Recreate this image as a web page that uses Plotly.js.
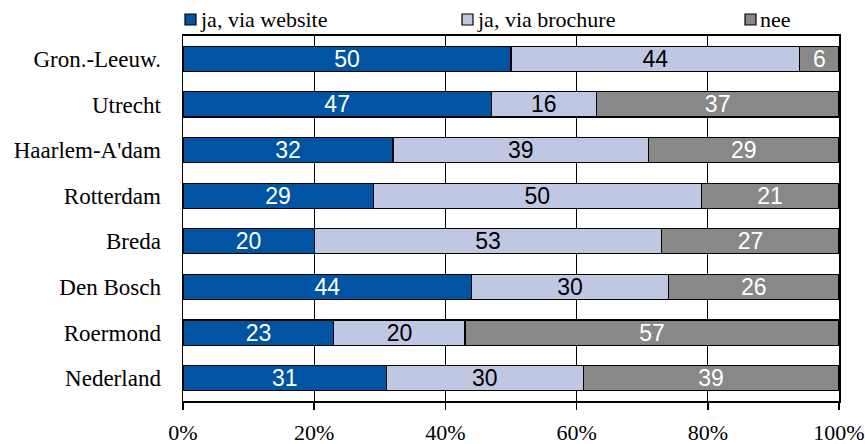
<!DOCTYPE html>
<html>
<head>
<meta charset="utf-8">
<script src="https://cdn.plot.ly/plotly-3.0.1.min.js"></script>
<style>html,body{margin:0;padding:0;background:#fff;}#chart{width:865px;height:444px;}</style>
</head>
<body>
<div id="chart"></div>
<script>
const categories = ["Gron.-Leeuw.", "Utrecht", "Haarlem-A'dam", "Rotterdam", "Breda", "Den Bosch", "Roermond", "Nederland"];
const website = [50, 47, 32, 29, 20, 44, 23, 31];
const brochure = [44, 16, 39, 50, 53, 30, 20, 30];
const nee = [6, 37, 29, 21, 27, 26, 57, 39];
const seriesNames = ["ja, via website", "ja, via brochure", "nee"];
const tickVals = [0, 20, 40, 60, 80, 100];
const tickText = ["0%", "20%", "40%", "60%", "80%", "100%"];

const colors = ["#0054A2", "#C0C7E2", "#888888"];
const textColors = ["#ffffff", "#000000", "#ffffff"];
const serif = "Liberation Serif";
const sans = "Liberation Sans";

const M = {l: 183, r: 26, t: 36, b: 43};
const W = 865, H = 444;
const pw = W - M.l - M.r, ph = H - M.t - M.b;
const px = x => (x - M.l) / pw;
const py = y => (H - M.b - y) / ph;

const data = [website, brochure, nee].map((vals, i) => ({
  type: "bar",
  orientation: "h",
  name: seriesNames[i],
  y: categories,
  x: vals,
  text: vals.map(String),
  textposition: "inside",
  insidetextanchor: "middle",
  textangle: 0,
  constraintext: "none",
  insidetextfont: {family: sans, size: 23, color: textColors[i]},
  marker: {color: colors[i], line: {color: "#000000", width: 1.2}},
  hoverinfo: "skip",
  showlegend: false
}));

// manual legend (square + label), left edges of squares in px
const legX = [185, 462, 745];
const shapes = [], annotations = [];
seriesNames.forEach((n, i) => {
  shapes.push({type: "rect", xref: "paper", yref: "paper",
    x0: px(legX[i]), x1: px(legX[i] + 11), y0: py(25), y1: py(14),
    fillcolor: colors[i], line: {color: "#000", width: 1.2}});
  annotations.push({xref: "paper", yref: "paper", x: px(legX[i] + 13), y: py(20),
    xanchor: "left", yanchor: "middle", showarrow: false, text: n,
    font: {family: serif, size: 22, color: "#000"}});
});

const layout = {
  width: W, height: H,
  margin: M,
  paper_bgcolor: "#ffffff", plot_bgcolor: "#ffffff",
  barmode: "stack",
  bargap: 0.45,
  showlegend: false,
  shapes: shapes,
  annotations: annotations,
  xaxis: {
    range: [0, 100], tickvals: tickVals, ticktext: tickText,
    showgrid: true, gridcolor: "#000000", gridwidth: 1,
    ticks: "outside", ticklen: 7, tickwidth: 1.5, tickcolor: "#000",
    showline: true, linecolor: "#000", linewidth: 2, mirror: true,
    zeroline: false, fixedrange: true, ticklabelstandoff: 4,
    tickfont: {family: serif, size: 22, color: "#000"}
  },
  yaxis: {
    type: "category", autorange: "reversed",
    showline: true, linecolor: "#000", linewidth: 1.5, mirror: true,
    ticks: "", ticklabelstandoff: 16, fixedrange: true,
    tickfont: {family: serif, size: 23, color: "#000"}
  },
  hovermode: false
};

Plotly.newPlot("chart", data, layout, {displayModeBar: false, staticPlot: true});
</script>
</body>
</html>
